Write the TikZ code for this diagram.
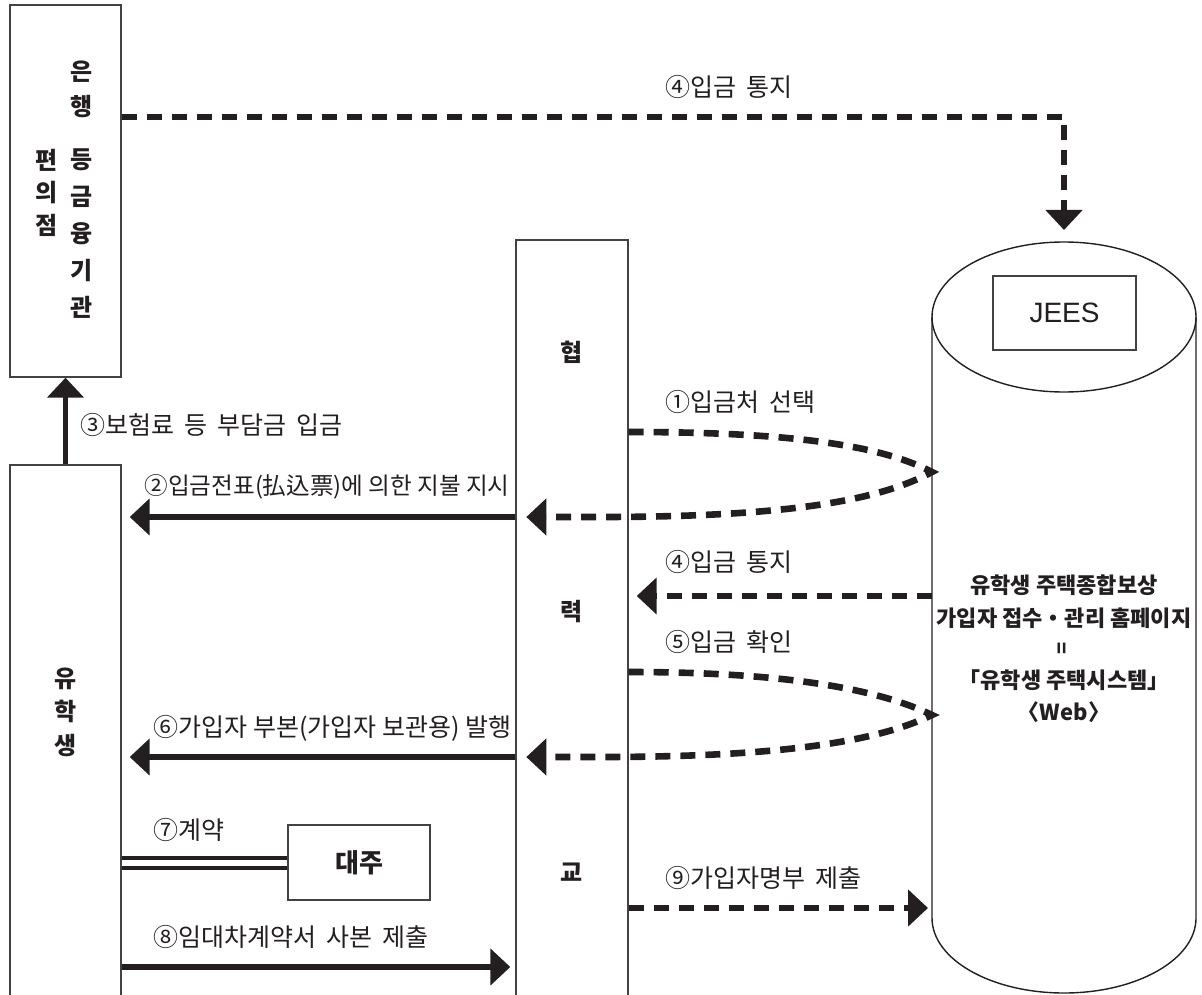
\documentclass[tikz,border=0pt]{standalone}
\usepackage{fontspec}
\newfontfamily\kr{Noto Sans CJK KR}
\newfontfamily\arialf{Liberation Sans}
\usetikzlibrary{arrows.meta}
\definecolor{ink}{RGB}{35,31,32}
\newcommand{\wsp}{\hspace{0.4em}}
\begin{document}
\begin{tikzpicture}[x=0.5pt,y=-0.5pt,
  box/.style={draw=ink!85, line width=0.7pt, rectangle, inner sep=0pt},
  solidarrow/.style={draw=ink, line width=2.8pt, -{Triangle[length=10pt,width=18pt]}},
  dasharrow/.style={draw=ink, line width=3.3pt, dash pattern=on 7.5pt off 5pt, -{Triangle[length=10pt,width=18pt]}},
  lbl/.style={font=\kr\fontsize{12.5}{14}\selectfont, text=ink, inner sep=0pt},
  boxtext/.style={text=ink, align=center, inner sep=0pt},
]
\useasboundingbox (0,0) rectangle (1202,994);
\clip (0,0) rectangle (1202,994);

% helper y levels
\coordinate (y4top) at (0,117);
\coordinate (y1) at (0,432);
\coordinate (y2) at (0,517);
\coordinate (y5) at (0,672);
\coordinate (y6) at (0,757);
\coordinate (y8) at (0,967);

% boxes
\node[box, minimum width=55.5pt, minimum height=186pt] (bank) at (65.5,191) {};
\node[boxtext, font=\kr\bfseries\fontsize{12}{17.5}\selectfont] (bankA) at (82,89.5) {은\\행};
\node[boxtext, font=\kr\bfseries\fontsize{12}{18.5}\selectfont] (bankB) at (82,234) {등\\금\\융\\기\\관};
\node[boxtext, font=\kr\bfseries\fontsize{12}{16.25}\selectfont] (bankC) at (47,192.5) {편\\의\\점};

\node[box, minimum width=55.5pt, minimum height=275pt] (student) at (65.5,740) {};
\node[boxtext, font=\kr\bfseries\fontsize{12}{16.75}\selectfont] (studentT) at (66,712) {유\\학\\생};

\node[box, minimum width=56pt, minimum height=387.5pt] (kyo) at (572,627.5) {};
\node[boxtext, font=\kr\bfseries\fontsize{12}{14}\selectfont] (kyo1) at (572,352) {협};
\node[boxtext, font=\kr\bfseries\fontsize{12}{14}\selectfont] (kyo2) at (572,612) {력};
\node[boxtext, font=\kr\bfseries\fontsize{12}{14}\selectfont] (kyo3) at (572,872) {교};

\node[box, minimum width=71pt, minimum height=37.5pt, font=\kr\bfseries\fontsize{13}{15}\selectfont, text=ink] (daeju) at (359,862.5) {대주};

% cylinder
\coordinate (cyl) at (1064,317);
\coordinate (cyltop) at (1064,242);
\draw[draw=ink, line width=0.7pt] (932,317) -- (932,918) arc[start angle=180,end angle=0,x radius=132,y radius=75] -- (1196,317);
\draw[draw=ink, line width=0.7pt] (cyl) ellipse[x radius=132, y radius=75];
\node[box, minimum width=71.5pt, minimum height=37pt, font=\arialf\fontsize{14}{16}\selectfont, text=ink] (jees) at (1064.5,313) {JEES};

\coordinate (c1) at (932,472);
\coordinate (c2) at (932,596);
\coordinate (c3) at (932,715);
\coordinate (c4) at (932,908);

\node[boxtext, font=\kr\bfseries\fontsize{11}{12}\selectfont] (sys1) at (1064,585) {유학생 주택종합보상};
\node[boxtext, font=\kr\bfseries\fontsize{11}{12}\selectfont] (sys2) at (1064,618) {가입자 접수・관리 홈페이지};
\node[boxtext, rotate=90, font=\kr\bfseries\fontsize{10}{10}\selectfont] (sys3) at (1064,648) {=};
\node[boxtext, font=\kr\bfseries\fontsize{11}{12}\selectfont] (sys4) at (1064,680) {「유학생 주택시스템」};
\node[boxtext, font=\kr\bfseries\fontsize{11}{12}\selectfont] (sys5) at (1064,712) {〈Web〉};

% connectors
\draw[solidarrow] (student.north) -- (bank.south);
\draw[dasharrow, shorten >=6pt] (bank.east |- y4top) -| (cyltop);
\draw[dasharrow, shorten >=5.5pt] (kyo.east |- y1) .. controls (790,432) and (880,445) .. (c1) .. controls (880,500) and (790,517) .. (600,517) -- (kyo.west |- y2);
\draw[solidarrow, shorten >=4pt] (kyo.west |- y2) -- (student.east |- y2);
\draw[dasharrow, shorten >=4pt] (c2) -- (kyo.east |- c2);
\draw[dasharrow, shorten >=5.5pt] (kyo.east |- y5) .. controls (790,672) and (880,690) .. (c3) .. controls (880,740) and (790,757) .. (600,757) -- (kyo.west |- y6);
\draw[solidarrow, shorten >=4pt] (kyo.west |- y6) -- (student.east |- y6);
\draw[draw=ink, line width=2pt, double=white, double distance=3pt] (student.east |- daeju.west) -- (daeju.west);
\draw[solidarrow, shorten >=2.5pt] (student.east |- y8) -- (kyo.west |- y8);
\draw[dasharrow, shorten >=2pt] (kyo.east |- c4) -- (c4);

% labels
\node[lbl, anchor=west] (l4a) at (665,87) {④입금\wsp 통지};
\node[lbl, anchor=west] (l3) at (80,425) {③보험료\wsp 등\wsp 부담금\wsp 입금};
\node[lbl, anchor=east, font=\kr\fontsize{11.8}{14}\selectfont] (l2) at (510,487) {②입금전표(払込票)에 의한 지불 지시};
\node[lbl, anchor=west] (l1) at (665,402) {①입금처\wsp 선택};
\node[lbl, anchor=west] (l4b) at (665,562) {④입금\wsp 통지};
\node[lbl, anchor=west] (l5) at (665,642) {⑤입금\wsp 확인};
\node[lbl, anchor=east] (l6) at (512,728) {⑥가입자 부본(가입자 보관용) 발행};
\node[lbl, anchor=west] (l7) at (153,830) {⑦계약};
\node[lbl, anchor=west] (l8) at (153,937) {⑧임대차계약서\wsp 사본\wsp 제출};
\node[lbl, anchor=west] (l9) at (665,878) {⑨가입자명부\wsp 제출};
\end{tikzpicture}
\end{document}
